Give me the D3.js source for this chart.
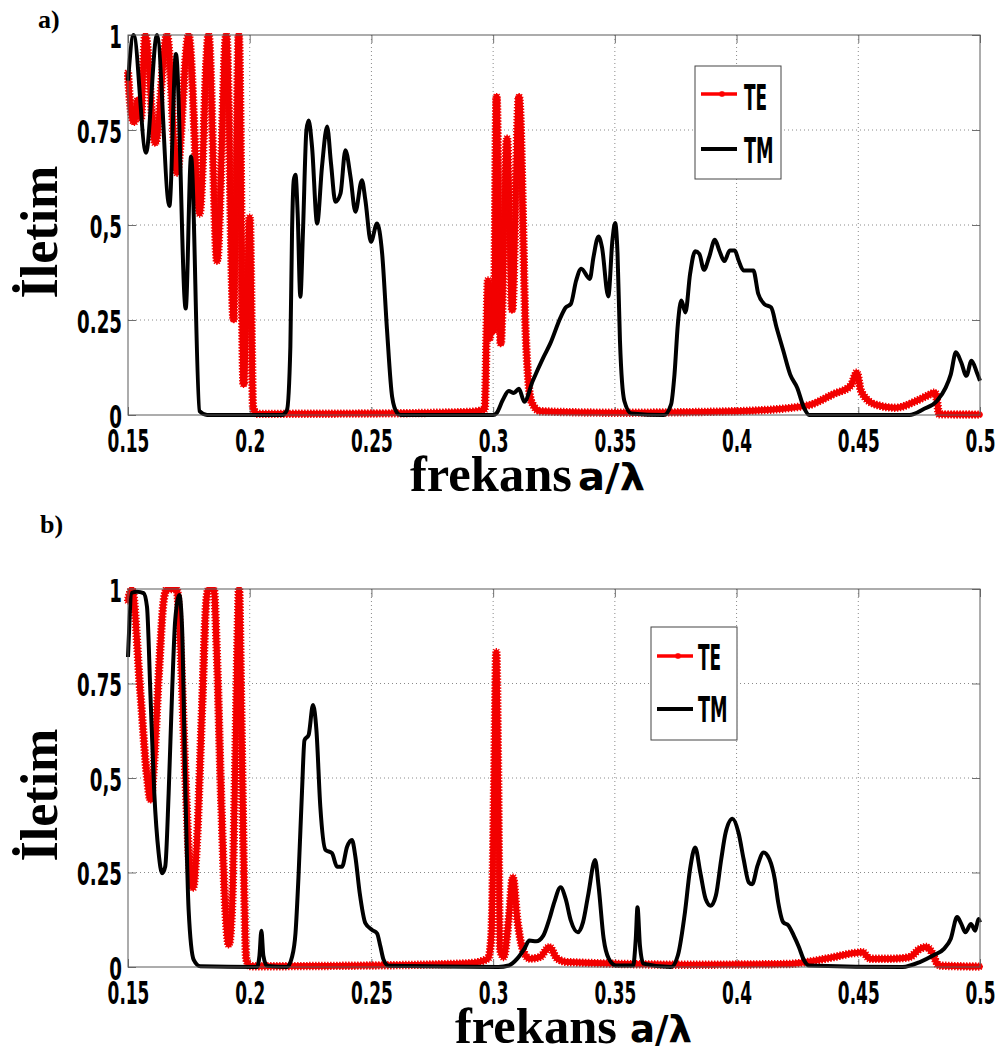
<!DOCTYPE html>
<html><head><meta charset="utf-8">
<script src="https://cdn.jsdelivr.net/npm/d3@7"></script>
<style>body{margin:0;background:#fff}</style>
</head><body><svg id="c" width="1004" height="1053"></svg>
<script>
// ---------- data ----------
const xTicks=[0.15,0.2,0.25,0.3,0.35,0.4,0.45,0.5];
const xTickLabels=["0.15","0.2","0.25","0.3","0.35","0.4","0.45","0.5"];
const yTicks=[0,0.25,0.5,0.75,1];
const yTickLabels=["0","0.25","0,5","0.75","1"];
const seriesNames=["TE","TM"];
const panelTags=["a)","b)"];
const yTitle="İletim";
const xTitleMain="frekans";
const xTitleUnit="a/λ";

// panel a) TE
const teA_f=[0.1500,0.1512,0.1525,0.1540,0.1553,0.1565,0.1571,0.1612,0.1660,0.1701,0.1749,0.1794,0.1831,0.1866,0.1904,0.1934,0.1955,0.1975,0.1988,0.2000,0.2014,0.2030,0.2500,0.2900,0.2965,0.2979,0.2986,0.2995,0.3003,0.3014,0.3031,0.3057,0.3078,0.3106,0.3135,0.3156,0.3192,0.3500,0.4000,0.4284,0.4398,0.4469,0.4494,0.4511,0.4568,0.4653,0.4738,0.4781,0.4816,0.4825,0.4831,0.5000];
const teA_t=[0.90,0.80,0.77,0.83,0.78,0.95,1.00,0.715,1.00,0.637,1.00,0.53,1.00,0.405,1.00,0.25,1.00,0.08,0.30,0.52,0.02,0.003,0.004,0.008,0.015,0.354,0.20,0.34,0.22,0.838,0.187,0.728,0.275,0.838,0.195,0.037,0.010,0.006,0.010,0.024,0.055,0.077,0.112,0.063,0.028,0.019,0.037,0.050,0.059,0.030,0.002,0.001];
// panel a) TM
const tmA_f=[0.1500,0.1523,0.1574,0.1619,0.1670,0.1697,0.1737,0.1759,0.1794,0.1825,0.2133,0.2153,0.2167,0.2174,0.2181,0.2188,0.2197,0.2208,0.2219,0.2233,0.2242,0.2256,0.2277,0.2297,0.2318,0.2334,0.2352,0.2373,0.2393,0.2414,0.2434,0.2461,0.2475,0.2498,0.2523,0.2544,0.2564,0.2585,0.2605,0.2620,0.3000,0.3014,0.3040,0.3064,0.3085,0.3106,0.3128,0.3163,0.3206,0.3234,0.3277,0.3298,0.3319,0.3341,0.3362,0.3397,0.3412,0.3433,0.3447,0.3473,0.3490,0.3501,0.3511,0.3521,0.3539,0.3568,0.3702,0.3731,0.3745,0.3759,0.3773,0.3790,0.3809,0.3830,0.3847,0.3866,0.3887,0.3911,0.3929,0.3950,0.3972,0.3993,0.4008,0.4029,0.4069,0.4089,0.4114,0.4142,0.4164,0.4192,0.4220,0.4249,0.4277,0.4298,0.4710,0.4767,0.4823,0.4859,0.4880,0.4901,0.4923,0.4944,0.4965,0.4987,0.5000];
const tmA_t=[0.88,1.00,0.69,1.00,0.55,0.95,0.28,0.68,0.01,0.00,0.00,0.013,0.18,0.487,0.618,0.632,0.53,0.311,0.487,0.75,0.775,0.706,0.504,0.654,0.759,0.662,0.561,0.583,0.697,0.627,0.535,0.618,0.566,0.456,0.504,0.425,0.224,0.048,0.006,0.0,0.0,0.005,0.040,0.063,0.058,0.069,0.035,0.09,0.151,0.187,0.257,0.283,0.292,0.354,0.385,0.358,0.415,0.470,0.442,0.312,0.460,0.505,0.424,0.195,0.037,0.004,0.0,0.028,0.107,0.24,0.301,0.27,0.371,0.431,0.424,0.382,0.415,0.461,0.433,0.405,0.433,0.433,0.407,0.38,0.38,0.319,0.292,0.283,0.231,0.169,0.107,0.072,0.019,0.0,0.0,0.015,0.037,0.072,0.107,0.165,0.138,0.103,0.143,0.112,0.09];
// panel b) TE
const teB_f=[0.1500,0.1516,0.1551,0.1578,0.1592,0.1608,0.1626,0.1647,0.1660,0.1700,0.1715,0.1736,0.1756,0.1767,0.1783,0.1804,0.1822,0.1831,0.1852,0.1866,0.1882,0.1900,0.1914,0.1927,0.1941,0.1951,0.1956,0.1964,0.1975,0.1986,0.2003,0.2500,0.2900,0.2979,0.2993,0.3004,0.3013,0.3021,0.3028,0.3043,0.3064,0.3081,0.3099,0.3121,0.3149,0.3192,0.3231,0.3263,0.3305,0.3800,0.4213,0.4284,0.4398,0.4483,0.4518,0.4547,0.4639,0.4710,0.4753,0.4781,0.4802,0.4831,0.5000];
const teB_t=[0.97,1.00,0.724,0.504,0.442,0.548,0.768,0.971,1.00,1.00,0.856,0.504,0.24,0.209,0.328,0.68,0.971,1.00,1.00,0.812,0.46,0.152,0.059,0.152,0.548,0.90,1.00,0.724,0.284,0.019,0.002,0.004,0.010,0.022,0.083,0.478,0.833,0.478,0.048,0.026,0.127,0.237,0.127,0.048,0.022,0.026,0.053,0.022,0.013,0.006,0.008,0.013,0.026,0.037,0.039,0.022,0.022,0.026,0.048,0.053,0.039,0.004,0.001];
// panel b) TM
const tmB_f=[0.1500,0.1516,0.1537,0.1564,0.1578,0.1592,0.1608,0.1626,0.1640,0.1653,0.1667,0.1681,0.1694,0.1711,0.1722,0.1736,0.1749,0.1770,0.1797,0.2030,0.2040,0.2048,0.2056,0.2071,0.2153,0.2174,0.2188,0.2201,0.2215,0.2225,0.2242,0.2260,0.2274,0.2290,0.2311,0.2338,0.2359,0.2379,0.2400,0.2420,0.2434,0.2452,0.2475,0.2503,0.2523,0.2537,0.2550,0.2571,0.3021,0.3064,0.3099,0.3128,0.3149,0.3177,0.3206,0.3231,0.3251,0.3277,0.3298,0.3319,0.3348,0.3369,0.3390,0.3419,0.3433,0.3454,0.3475,0.3504,0.3575,0.3586,0.3593,0.3603,0.3617,0.3731,0.3759,0.3788,0.3809,0.3830,0.3851,0.3873,0.3894,0.3915,0.3937,0.3955,0.3983,0.4008,0.4029,0.4050,0.4064,0.4086,0.4111,0.4135,0.4157,0.4171,0.4192,0.4213,0.4235,0.4256,0.4277,0.4298,0.4682,0.4753,0.4809,0.4852,0.4880,0.4906,0.4923,0.4940,0.4963,0.4980,0.4994,0.5000];
const tmB_t=[0.82,0.99,0.993,0.989,0.953,0.724,0.46,0.301,0.248,0.266,0.46,0.724,0.918,0.984,0.90,0.46,0.152,0.019,0.002,0.0,0.03,0.096,0.03,0.003,0.0,0.027,0.089,0.248,0.468,0.60,0.614,0.693,0.627,0.424,0.31,0.301,0.265,0.265,0.318,0.336,0.292,0.195,0.116,0.098,0.089,0.054,0.019,0.003,0.0,0.004,0.022,0.048,0.070,0.068,0.083,0.127,0.171,0.211,0.18,0.123,0.092,0.118,0.189,0.283,0.215,0.075,0.022,0.004,0.004,0.075,0.158,0.057,0.009,0.0,0.031,0.145,0.259,0.316,0.25,0.18,0.162,0.189,0.285,0.355,0.392,0.355,0.285,0.224,0.219,0.268,0.303,0.285,0.232,0.171,0.118,0.11,0.083,0.053,0.018,0.004,0.0,0.013,0.031,0.048,0.075,0.132,0.114,0.092,0.114,0.096,0.127,0.118];

// ---------- drawing ----------
const svg=d3.select("#c");
const L=128,R=980;
const cond="'DejaVu Sans',sans-serif";
const serif="'Liberation Serif','DejaVu Serif',serif";
const panels=[
 {top:35,bottom:415,tag:panelTags[0],tagX:38,tagY:28,te:[teA_f,teA_t],tm:[tmA_f,tmA_t],
  leg:{x:695,y:66,w:86,h:113,l1:94,l2:149,tx:744,b1:110,b2:163,lx1:701,lx2:737},
  xl:410,xlW:162,ul:578,ulW:67,ylc:232},
 {top:589,bottom:967,tag:panelTags[1],tagX:40,tagY:533,te:[teB_f,teB_t],tm:[tmB_f,tmB_t],
  leg:{x:651,y:627,w:86,h:113,l1:656,l2:709,tx:698,b1:670,b2:722,lx1:657,lx2:693},
  xl:455,xlW:162,ul:630,ulW:62,ylc:795}
];
const star="M-4.2,0H4.2M0,-4.2V4.2M-3,-3L3,3M-3,3L3,-3";

panels.forEach((p,pi)=>{
  const x=d3.scaleLinear().domain([0.15,0.5]).range([L,R]);
  const y=d3.scaleLinear().domain([0,1]).range([p.bottom,p.top]);
  const g=svg.append("g");
  g.append("rect").attr("x",L).attr("y",p.top).attr("width",R-L).attr("height",p.bottom-p.top).attr("fill","#fff");
  // grid
  g.selectAll(null).data(xTicks.slice(1,-1)).join("line")
    .attr("x1",d=>x(d)).attr("x2",d=>x(d)).attr("y1",p.top).attr("y2",p.bottom)
    .attr("stroke","#8a8a8a").attr("stroke-width",1).attr("stroke-dasharray","1,3");
  g.selectAll(null).data(yTicks.slice(1,-1)).join("line")
    .attr("y1",d=>y(d)).attr("y2",d=>y(d)).attr("x1",L).attr("x2",R)
    .attr("stroke","#8a8a8a").attr("stroke-width",1).attr("stroke-dasharray","1,3");
  // axes (ticks inside)
  const ax=g.append("g").attr("transform",`translate(0,${p.bottom})`)
    .call(d3.axisBottom(x).tickValues(xTicks).tickFormat((d,i)=>xTickLabels[i]).tickSizeInner(-8).tickSizeOuter(0));
  ax.selectAll("text").attr("y",0).attr("dy",0).attr("transform","translate(0,37) scale(0.53,1)")
    .attr("font-family",cond).attr("font-weight","bold").attr("font-size",32).attr("fill","#000");
  g.append("g").attr("transform",`translate(0,${p.top})`)
    .call(d3.axisTop(x).tickValues(xTicks).tickFormat("").tickSizeInner(-8).tickSizeOuter(0));
  const ay=g.append("g").attr("transform",`translate(${L},0)`)
    .call(d3.axisLeft(y).tickValues(yTicks).tickFormat((d,i)=>yTickLabels[i]).tickSizeInner(-8).tickSizeOuter(0));
  ay.selectAll("text").attr("x",0).attr("dy",0).attr("y",0).attr("transform","translate(-6,12) scale(0.57,1)")
    .attr("font-family",cond).attr("font-weight","bold").attr("font-size",32).attr("fill","#000");
  g.append("g").attr("transform",`translate(${R},0)`)
    .call(d3.axisRight(y).tickValues(yTicks).tickFormat("").tickSizeInner(-8).tickSizeOuter(0));
  g.selectAll(".domain").remove();
  g.selectAll(".tick line").attr("stroke","#707070");
  // clip
  const cid="clip"+pi;
  svg.append("clipPath").attr("id",cid).append("rect")
    .attr("x",L-4).attr("y",p.top-2).attr("width",R-L+8).attr("height",p.bottom-p.top+8);
  const cg=g.append("g").attr("clip-path",`url(#${cid})`);
  const line=d3.line().x(d=>x(d[0])).y(d=>y(d[1])).curve(d3.curveMonotoneX);
  const teData=p.te[0].map((f,i)=>[f,p.te[1][i]]);
  const tmData=p.tm[0].map((f,i)=>[f,p.tm[1][i]]);
  const tePath=cg.append("path").datum(teData).attr("d",line).attr("fill","none")
    .attr("stroke","#ff0000").attr("stroke-width",5.5).attr("stroke-linejoin","round").attr("stroke-linecap","round");
  // asterisk markers along TE
  const node=tePath.node(); const len=node.getTotalLength();
  const pts=d3.range(0,len,3).map(l=>node.getPointAtLength(l));
  cg.selectAll(null).data(pts).join("path").attr("d",star)
    .attr("transform",d=>`translate(${d.x},${d.y})`)
    .attr("stroke","#f20000").attr("stroke-width",1.3).attr("fill","none");
  cg.append("path").datum(tmData).attr("d",line).attr("fill","none")
    .attr("stroke","#000").attr("stroke-width",4).attr("stroke-linejoin","round");
  // border
  g.append("rect").attr("x",L).attr("y",p.top).attr("width",R-L).attr("height",p.bottom-p.top)
    .attr("fill","none").attr("stroke","#5a5a5a").attr("stroke-width",1);
  // legend
  const lg=p.leg;
  const leg=g.append("g");
  leg.append("rect").attr("x",lg.x).attr("y",lg.y).attr("width",lg.w).attr("height",lg.h)
    .attr("fill","#fff").attr("stroke","#444").attr("stroke-width",1);
  const items=[{name:seriesNames[0],ly:lg.l1,by:lg.b1,c:"#ff0000",w:3.4,s:0.47},{name:seriesNames[1],ly:lg.l2,by:lg.b2,c:"#000",w:4,s:0.49}];
  items.forEach((it,k)=>{
    leg.append("line").attr("x1",lg.lx1).attr("x2",lg.lx2).attr("y1",it.ly).attr("y2",it.ly)
      .attr("stroke",it.c).attr("stroke-width",it.w);
    if(k===0) leg.append("path").attr("d","M-3,0H3M0,-3V3M-2.2,-2.2L2.2,2.2M-2.2,2.2L2.2,-2.2")
      .attr("transform",`translate(${(lg.lx1+lg.lx2)/2+3},${it.ly})`)
      .attr("stroke","#ff0000").attr("stroke-width",1.5).attr("fill","none");
    leg.append("text").attr("transform",`translate(${lg.tx},${it.by}) scale(${it.s},1)`)
      .attr("font-family",cond).attr("font-weight","bold").attr("font-size",36).text(it.name);
  });
  // panel tag
  svg.append("text").attr("x",p.tagX).attr("y",p.tagY).attr("font-family",serif).attr("font-weight","bold")
    .attr("font-size",26).text(p.tag);
  // y title
  svg.append("text").attr("transform",`translate(57,${p.ylc}) rotate(-90)`).attr("text-anchor","middle")
    .attr("font-family",serif).attr("font-weight","bold").attr("font-size",52).text(yTitle);
  // x title
  svg.append("text").attr("x",p.xl).attr("y",p.bottom+76)
    .attr("font-family",serif).attr("font-weight","bold").attr("font-size",50)
    .attr("textLength",p.xlW).attr("lengthAdjust","spacingAndGlyphs").text(xTitleMain);
  svg.append("text").attr("x",p.ul).attr("y",p.bottom+75)
    .attr("font-family",cond).attr("font-weight","bold").attr("font-size",38)
    .attr("textLength",p.ulW).attr("lengthAdjust","spacingAndGlyphs").text(xTitleUnit);
});
</script></body></html>
